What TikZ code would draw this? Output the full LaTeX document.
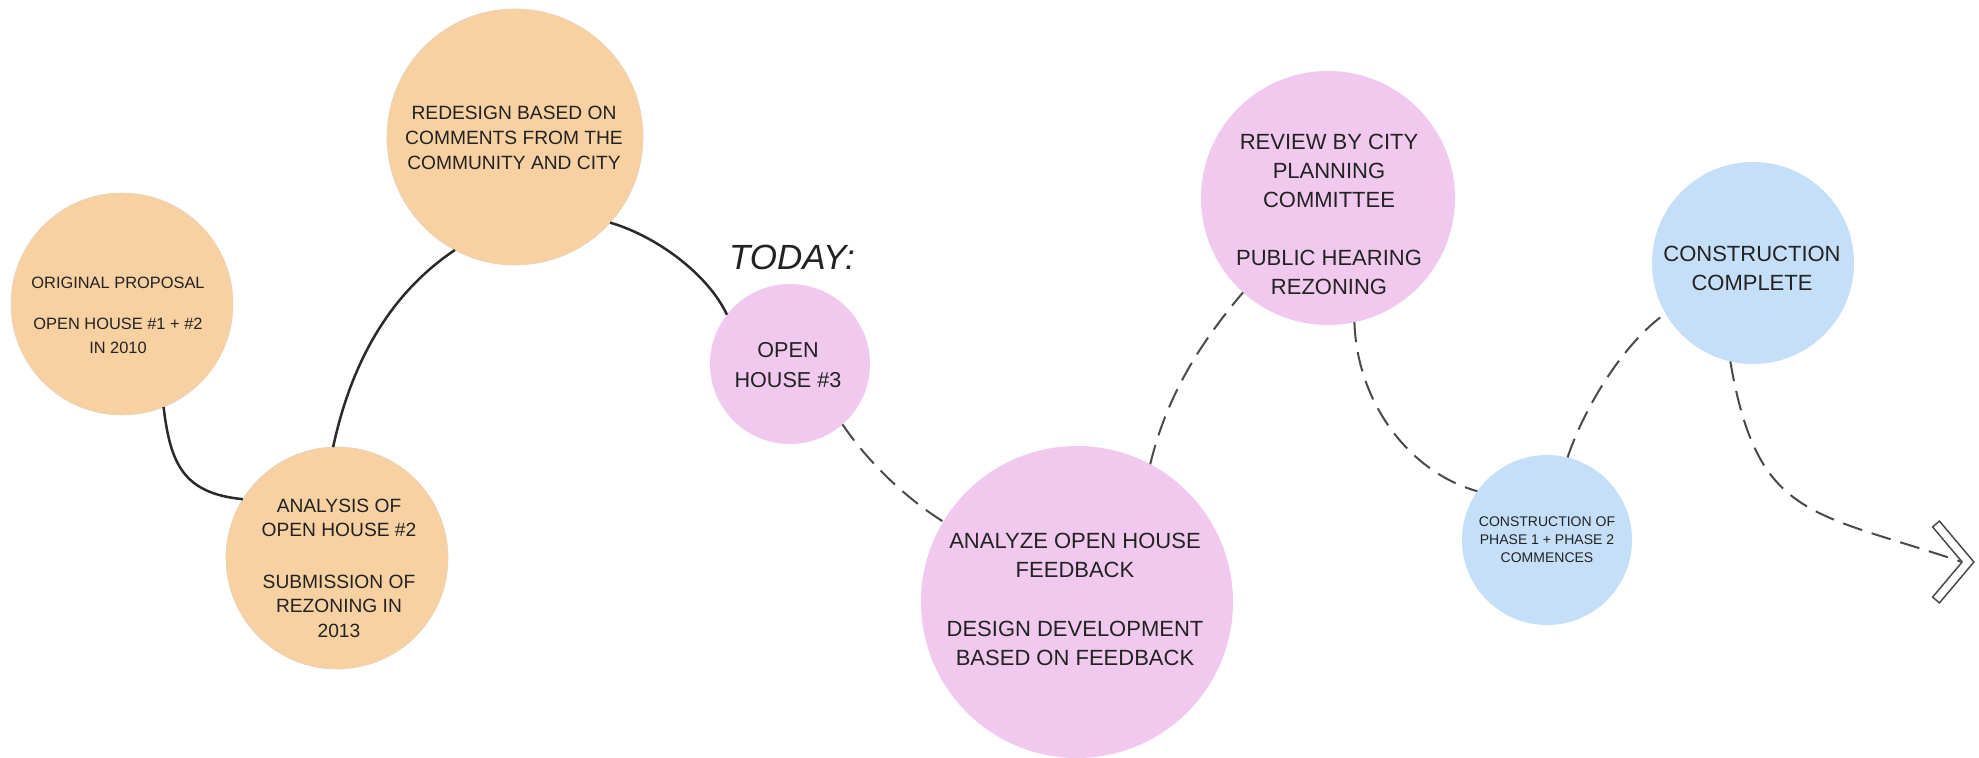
\documentclass[tikz,border=0pt]{standalone}
\usepackage{fontspec}
\setmainfont{Liberation Sans}
\definecolor{orng}{HTML}{F8D1A2}
\definecolor{pnk}{HTML}{F1C9EE}
\definecolor{blu}{HTML}{C5DFF8}
\definecolor{ink}{HTML}{222222}
\definecolor{linec}{HTML}{2A2A2A}
\definecolor{dashc}{HTML}{4A4A4A}
\begin{document}
\begin{tikzpicture}[x=0.5pt,y=-0.5pt,
  circ/.style={circle, inner sep=0pt, outer sep=0pt},
  txt/.style={align=center, inner sep=0pt, text=ink},
  solidcon/.style={draw=linec, line width=1.25pt},
  dashcon/.style={draw=dashc, line width=1pt, dash pattern=on 10pt off 5pt},
]
\useasboundingbox[fill=white] (0,0) rectangle (1979,758);

% circles
\node[circ, fill=orng, draw=orng!85!black!60, line width=0.3pt, minimum size=111pt] (c1) at (122,304) {};
\node[circ, fill=orng, draw=orng!85!black!60, line width=0.3pt, minimum size=111pt] (c2) at (337,558) {};
\node[circ, fill=orng, draw=orng!85!black!60, line width=0.3pt, minimum size=128pt] (c3) at (515,137) {};
\node[circ, fill=pnk, minimum size=80pt] (c4) at (790,364) {};
\node[circ, fill=pnk, minimum size=156pt] (c5) at (1077,602) {};
\node[circ, fill=pnk, minimum size=127pt] (c6) at (1328,198) {};
\node[circ, fill=blu, minimum size=101pt] (c7) at (1753,263) {};
\node[circ, fill=blu, minimum size=85pt] (c8) at (1547,540) {};

% texts
\node[txt, font=\fontsize{8.2}{12}\selectfont] (t1) at (118,315)
  {ORIGINAL PROPOSAL\\[8.5pt] OPEN HOUSE \#1 + \#2\\ IN 2010};
\node[txt, font=\fontsize{9.6}{12.2}\selectfont] (t2) at (339,568)
  {ANALYSIS OF\\ OPEN HOUSE \#2\\[13.7pt] SUBMISSION OF\\ REZONING IN\\ 2013};
\node[txt, font=\fontsize{9.6}{12.5}\selectfont] (t3) at (514,138)
  {REDESIGN BASED ON\\ COMMENTS FROM THE\\ COMMUNITY AND CITY};
\node[txt, font=\fontsize{10.8}{15}\selectfont] (t4) at (788,365)
  {OPEN\\ HOUSE \#3};
\node[txt, font=\fontsize{11}{14.5}\selectfont] (t5) at (1075,599)
  {ANALYZE OPEN HOUSE\\ FEEDBACK\\[15pt] DESIGN DEVELOPMENT\\ BASED ON FEEDBACK};
\node[txt, font=\fontsize{11}{14.5}\selectfont] (t6) at (1329,214)
  {REVIEW BY CITY\\ PLANNING\\ COMMITTEE\\[14.5pt] PUBLIC HEARING\\ REZONING};
\node[txt, font=\fontsize{11}{14.5}\selectfont] (t7) at (1752,268)
  {CONSTRUCTION\\ COMPLETE};
\node[txt, font=\fontsize{7}{9}\selectfont] (t8) at (1547,540)
  {CONSTRUCTION OF\\ PHASE 1 + PHASE 2\\ COMMENCES};
\node[txt, font=\fontsize{17.5}{20}\selectfont\itshape] (today) at (792,257) {TODAY:};

% connectors
\draw[solidcon] (c1.-68.4) .. controls (170.4,464.4) and (183.6,493.4) .. (c2.148.3);
\draw[solidcon] (c2.92) .. controls (353,354) and (395.5,289.7) .. (c3.242);
\draw[solidcon] (c3.-42.8) .. controls (656.3,236) and (708,274.2) .. (c4.142);
\draw[dashcon] (c4.-49) .. controls (868,462.4) and (907.2,499.2) .. (c5.149.4);
\draw[dashcon] (c5.62.3) .. controls (1166.8,395.1) and (1200.7,342.4) .. (c6.228.2);
\draw[dashcon] (c6.-78.7) .. controls (1357,403) and (1409.8,472.4) .. (c8.145.6);
\draw[dashcon] (c8.76) .. controls (1584,407.8) and (1623.5,343) .. (c7.210);
\coordinate (tipin) at (1962,562);
\draw[dashcon] (c7.-103) .. controls (1757.5,519) and (1810,510.8) .. (tipin);

% end chevron
\draw[draw=dashc, line width=0.75pt, fill=white, line join=miter]
  (1939.4,521.1) -- (1973.9,562) -- (1939.4,602.9) -- (1932.6,597.1)
  -- (1962.1,562) -- (1932.6,526.9) -- cycle;
\end{tikzpicture}
\end{document}
